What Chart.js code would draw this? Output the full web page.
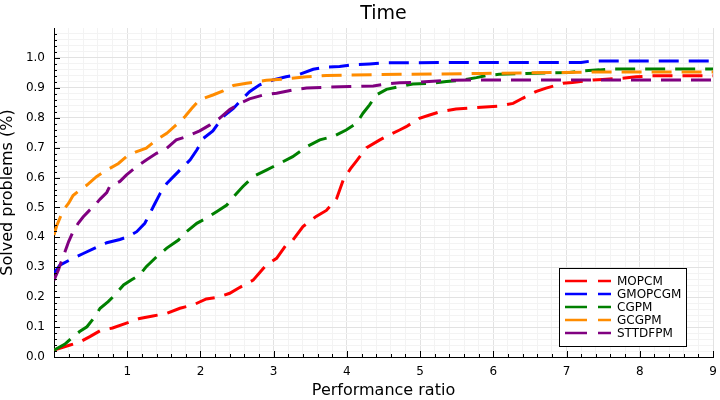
<!DOCTYPE html>
<html>
<head>
<meta charset="utf-8">
<script src="https://cdn.jsdelivr.net/npm/chart.js@4.4.0/dist/chart.umd.min.js"></script>
<style>
  html, body { margin: 0; padding: 0; background: #fff; }
  #wrap { width: 720px; height: 400px; }
</style>
</head>
<body>
<div id="wrap"><canvas id="chart" width="720" height="400"></canvas></div>
<script>
// Series (x = performance ratio, y = fraction solved)
const labels = ['MOPCM', 'GMOPCGM', 'CGPM', 'GCGPM', 'STTDFPM'];
const colors = ['#ff0000', '#0000ff', '#008000', '#ff8c00', '#800080'];

const mopcm = [[0,0.023],[0.22,0.04],[0.35,0.05],[0.49,0.068],[0.63,0.088],[0.8,0.097],[0.99,0.113],[1.17,0.129],[1.35,0.137],[1.54,0.146],[1.72,0.163],[1.9,0.174],[2.08,0.194],[2.24,0.2],[2.4,0.213],[2.54,0.233],[2.72,0.257],[2.9,0.308],[3.04,0.33],[3.17,0.375],[3.26,0.39],[3.4,0.436],[3.58,0.47],[3.72,0.49],[3.86,0.53],[3.95,0.592],[4.05,0.63],[4.13,0.655],[4.27,0.7],[4.45,0.726],[4.6,0.745],[4.72,0.759],[4.81,0.77],[4.99,0.798],[5.13,0.809],[5.27,0.82],[5.49,0.829],[5.77,0.834],[6.08,0.839],[6.27,0.848],[6.4,0.865],[6.58,0.887],[6.72,0.899],[6.95,0.915],[7.08,0.918],[7.36,0.926],[7.49,0.928],[7.76,0.932],[7.95,0.937],[8.17,0.94],[9,0.94]];

const gmopcgm = [[0,0.28],[0.08,0.307],[0.26,0.33],[0.4,0.346],[0.6,0.369],[0.72,0.382],[0.9,0.393],[1.01,0.402],[1.13,0.419],[1.24,0.447],[1.31,0.48],[1.38,0.514],[1.45,0.547],[1.54,0.58],[1.72,0.625],[1.86,0.659],[1.95,0.692],[2.04,0.731],[2.17,0.756],[2.31,0.804],[2.45,0.831],[2.58,0.865],[2.67,0.887],[2.81,0.91],[2.99,0.926],[3.17,0.937],[3.36,0.946],[3.54,0.962],[3.72,0.969],[3.9,0.971],[4.08,0.977],[4.31,0.98],[4.54,0.984],[7.2,0.985],[7.35,0.99],[9,0.99]];

const cgpm = [[0,0.023],[0.15,0.043],[0.26,0.068],[0.35,0.085],[0.45,0.101],[0.54,0.129],[0.63,0.163],[0.74,0.185],[0.83,0.207],[0.95,0.241],[1.06,0.258],[1.17,0.274],[1.26,0.302],[1.4,0.335],[1.54,0.364],[1.7,0.391],[1.81,0.419],[1.95,0.447],[2.08,0.464],[2.22,0.486],[2.36,0.508],[2.45,0.535],[2.58,0.57],[2.72,0.603],[2.9,0.625],[3.08,0.647],[3.26,0.67],[3.45,0.703],[3.63,0.726],[3.81,0.737],[3.99,0.759],[4.13,0.781],[4.22,0.815],[4.31,0.843],[4.4,0.876],[4.54,0.895],[4.72,0.904],[4.9,0.913],[5.13,0.915],[5.36,0.921],[5.58,0.926],[5.77,0.934],[5.9,0.941],[6.08,0.945],[6.45,0.948],[6.81,0.95],[7.04,0.951],[7.22,0.957],[7.45,0.96],[7.61,0.963],[9,0.963]];

const gcgpm = [[0,0.408],[0.04,0.441],[0.08,0.464],[0.13,0.492],[0.2,0.514],[0.26,0.54],[0.35,0.558],[0.45,0.575],[0.58,0.603],[0.72,0.625],[0.88,0.647],[0.99,0.67],[1.13,0.687],[1.26,0.698],[1.4,0.726],[1.54,0.748],[1.67,0.776],[1.79,0.804],[1.88,0.831],[1.99,0.86],[2.17,0.876],[2.31,0.89],[2.45,0.908],[2.63,0.915],[2.9,0.925],[3.17,0.93],[3.45,0.937],[3.72,0.941],[4.04,0.943],[4.72,0.945],[5.85,0.948],[7.4,0.953],[9,0.953]];

const sttdfpm = [[0,0.257],[0.06,0.291],[0.1,0.319],[0.15,0.352],[0.2,0.386],[0.26,0.419],[0.33,0.447],[0.4,0.469],[0.49,0.492],[0.56,0.508],[0.63,0.528],[0.72,0.55],[0.76,0.57],[0.9,0.587],[0.99,0.609],[1.13,0.637],[1.26,0.659],[1.4,0.681],[1.54,0.698],[1.67,0.726],[1.81,0.737],[1.99,0.756],[2.13,0.776],[2.26,0.798],[2.4,0.828],[2.54,0.848],[2.67,0.863],[2.86,0.876],[3.04,0.882],[3.26,0.893],[3.45,0.899],[3.72,0.902],[4.04,0.904],[4.36,0.906],[4.54,0.913],[4.72,0.917],[4.9,0.918],[5.36,0.925],[5.72,0.926],[9,0.926]];

const series = [mopcm, gmopcgm, cgpm, gcgpm, sttdfpm];

// Axis ticks
const xMajor = [0, 1, 2, 3, 4, 5, 6, 7, 8, 9];
const yMajor = [0, 0.1, 0.2, 0.3, 0.4, 0.5, 0.6, 0.7, 0.8, 0.9, 1.0];
const xMinorStep = 0.2;
const yMinorStep = 0.02;

const FONT = 'DejaVu Sans';
const isMult = (v, step) => Math.abs(v / step - Math.round(v / step)) < 1e-6;

function minorTicks(min, max, step) {
  const out = [];
  const n = Math.round((max - min) / step);
  for (let i = 0; i <= n; i++) out.push({ value: +(min + i * step).toFixed(4) });
  return out;
}

// inward tick marks, title and boxed legend (like the Plots.jl look)
const decorations = {
  id: 'decorations',
  afterDraw(chart) {
    const { ctx, chartArea: a, scales } = chart;
    ctx.save();
    ctx.strokeStyle = '#000';
    ctx.lineWidth = 1;
    ctx.beginPath();
    scales.x.ticks.forEach(t => {
      const px = Math.round(scales.x.getPixelForValue(t.value)) + 0.5;
      const len = isMult(t.value, 1) ? 6 : 3;
      ctx.moveTo(px, a.bottom);
      ctx.lineTo(px, a.bottom - len);
    });
    scales.y.ticks.forEach(t => {
      const py = Math.round(scales.y.getPixelForValue(t.value)) + 0.5;
      const len = isMult(t.value, 0.1) ? 6 : 3;
      ctx.moveTo(a.left, py);
      ctx.lineTo(a.left + len, py);
    });
    ctx.stroke();

    // title
    ctx.fillStyle = '#000';
    ctx.font = '19px "' + FONT + '"';
    ctx.textAlign = 'center';
    ctx.textBaseline = 'alphabetic';
    ctx.fillText('Time', (a.left + a.right) / 2, 18.5);

    // legend
    const bx = 559.5, by = 268.5, bw = 127, bh = 78;
    ctx.fillStyle = '#fff';
    ctx.fillRect(bx, by, bw, bh);
    ctx.strokeStyle = '#000';
    ctx.strokeRect(bx, by, bw, bh);
    ctx.font = '12px "' + FONT + '"';
    ctx.textAlign = 'left';
    ctx.textBaseline = 'middle';
    chart.data.datasets.forEach((ds, i) => {
      const y = 281 + i * 13;
      ctx.strokeStyle = ds.borderColor;
      ctx.lineWidth = 2.5;
      ctx.setLineDash([22, 11]);
      ctx.beginPath();
      ctx.moveTo(565, y);
      ctx.lineTo(611, y);
      ctx.stroke();
      ctx.setLineDash([]);
      ctx.fillStyle = '#000';
      ctx.fillText(ds.label, 617, y + 0.5);
    });
    ctx.restore();
  }
};

const ctx = document.getElementById('chart').getContext('2d');
const chart = new Chart(ctx, {
  type: 'scatter',
  data: {
    datasets: series.map((pts, i) => ({
      label: labels[i],
      data: pts.map(p => ({ x: p[0], y: p[1] })),
      showLine: true,
      borderColor: colors[i],
      backgroundColor: colors[i],
      borderWidth: 3,
      borderDash: [20, 10],
      pointRadius: 0,
      tension: 0,
      fill: false,
      order: series.length - i
    }))
  },
  options: {
    responsive: false,
    animation: false,
    events: [],
    layout: { padding: { top: 28, right: 7, left: 0, bottom: 0 } },
    plugins: {
      legend: { display: false },
      title: { display: false },
      tooltip: { enabled: false }
    },
    scales: {
      x: {
        type: 'linear',
        min: 0,
        max: 9,
        afterFit: s => { s.height = 43; s.paddingLeft = 0; s.paddingRight = 0; },
        afterBuildTicks: s => { s.ticks = minorTicks(0, 9, xMinorStep); },
        border: { display: true, color: '#000', width: 1 },
        grid: {
          drawTicks: false,
          color: c => isMult(c.tick.value, 1) ? '#e2e2e2' : '#f3f3f3',
          lineWidth: 1
        },
        ticks: {
          autoSkip: false,
          maxRotation: 0,
          padding: 8,
          color: '#000',
          font: { family: FONT, size: 12 },
          callback: v => (isMult(v, 1) && v > 0 && xMajor.includes(Math.round(v))) ? String(Math.round(v)) : ''
        },
        title: {
          display: true,
          text: 'Performance ratio',
          color: '#000',
          font: { family: FONT, size: 16 },
          padding: { top: 0, bottom: 0 }
        }
      },
      y: {
        type: 'linear',
        min: 0,
        max: 1.1,
        afterFit: s => { s.width = 54; s.paddingTop = 0; s.paddingBottom = 0; },
        afterBuildTicks: s => { s.ticks = minorTicks(0, 1.08, yMinorStep); },
        border: { display: true, color: '#000', width: 1 },
        grid: {
          drawTicks: false,
          color: c => isMult(c.tick.value, 0.1) ? '#e2e2e2' : '#f3f3f3',
          lineWidth: 1
        },
        ticks: {
          autoSkip: false,
          padding: 9,
          color: '#000',
          font: { family: FONT, size: 12 },
          callback: v => {
            const m = yMajor.find(t => Math.abs(t - v) < 1e-6);
            return m === undefined ? '' : m.toFixed(1);
          }
        },
        title: {
          display: true,
          text: 'Solved problems (%)',
          color: '#000',
          font: { family: FONT, size: 16 },
          padding: { top: -2, bottom: 0 }
        }
      }
    }
  },
  plugins: [decorations]
});
</script>
</body>
</html>
